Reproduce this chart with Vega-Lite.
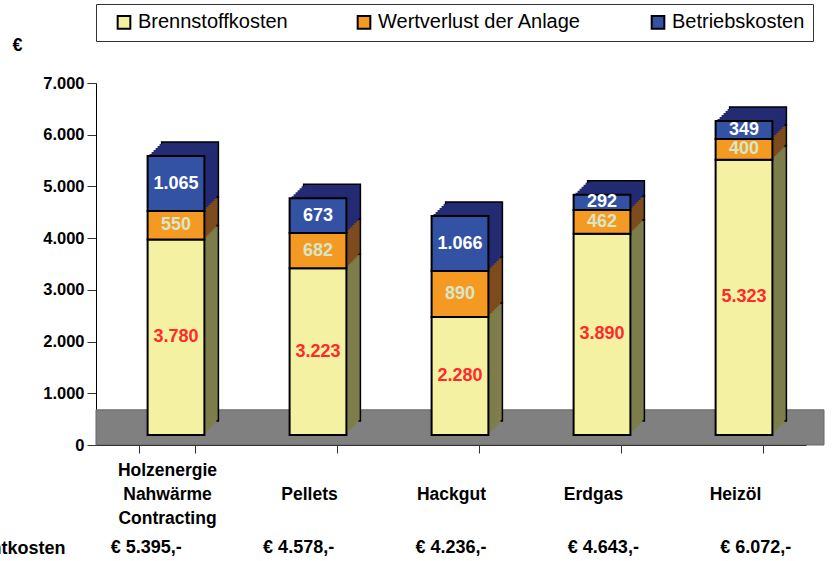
{
  "$schema": "https://vega.github.io/schema/vega-lite/v6.json",
  "width": 710,
  "height": 362,
  "autosize": {"type": "none"},
  "padding": {"left": 96, "top": 83, "right": 26, "bottom": 116},
  "background": "white",
  "config": {
    "locale": {"number": {"decimal": ",", "thousands": ".", "grouping": [3], "currency": ["€ ", ",-"]}},
    "font": "Liberation Sans",
    "view": {"stroke": null}
  },
  "datasets": {
    "costs": [
      {"cat": "Holzenergie Nahwärme Contracting", "comp": "Brennstoffkosten", "n": 1, "v": 3780},
      {"cat": "Holzenergie Nahwärme Contracting", "comp": "Wertverlust der Anlage", "n": 2, "v": 550},
      {"cat": "Holzenergie Nahwärme Contracting", "comp": "Betriebskosten", "n": 3, "v": 1065},
      {"cat": "Pellets", "comp": "Brennstoffkosten", "n": 1, "v": 3223},
      {"cat": "Pellets", "comp": "Wertverlust der Anlage", "n": 2, "v": 682},
      {"cat": "Pellets", "comp": "Betriebskosten", "n": 3, "v": 673},
      {"cat": "Hackgut", "comp": "Brennstoffkosten", "n": 1, "v": 2280},
      {"cat": "Hackgut", "comp": "Wertverlust der Anlage", "n": 2, "v": 890},
      {"cat": "Hackgut", "comp": "Betriebskosten", "n": 3, "v": 1066},
      {"cat": "Erdgas", "comp": "Brennstoffkosten", "n": 1, "v": 3890},
      {"cat": "Erdgas", "comp": "Wertverlust der Anlage", "n": 2, "v": 462},
      {"cat": "Erdgas", "comp": "Betriebskosten", "n": 3, "v": 292},
      {"cat": "Heizöl", "comp": "Brennstoffkosten", "n": 1, "v": 5323},
      {"cat": "Heizöl", "comp": "Wertverlust der Anlage", "n": 2, "v": 400},
      {"cat": "Heizöl", "comp": "Betriebskosten", "n": 3, "v": 349}
    ],
    "totals": [
      {"cat": "Holzenergie Nahwärme Contracting", "total": 5395},
      {"cat": "Pellets", "total": 4578},
      {"cat": "Hackgut", "total": 4236},
      {"cat": "Erdgas", "total": 4643},
      {"cat": "Heizöl", "total": 6072}
    ]
  },
  "layer": [
    {
      "data": {"values": [{"part": "Boden"}]},
      "mark": {"type": "rect", "fill": "#808080", "stroke": "#666666", "strokeWidth": 1, "xOffset": 18, "x2Offset": 18},
      "encoding": {
        "y": {"datum": 0, "type": "quantitative"},
        "y2": {"datum": 680}
      }
    },
    {
      "data": {"name": "costs"},
      "encoding": {
        "x": {
          "field": "cat", "type": "nominal", "sort": null,
          "scale": {"paddingInner": 0.6, "paddingOuter": 0.3},
          "axis": {
            "title": "Gesamtkosten", "titleX": -31, "titleY": 103, "titleAlign": "right", "titleBaseline": "middle",
            "titleFontSize": 18, "titleFontWeight": "bold", "titleColor": "black",
            "labelAngle": 0, "labelFontSize": 17.5, "labelFontWeight": "bold", "labelColor": "black",
            "labelBaseline": "middle", "labelPadding": 17, "labelLineHeight": 24, "labelLimit": 250,
            "labelExpr": "length(split(datum.label, ' ')) > 1 ? split(datum.label, ' ') : ['', datum.label]",
            "tickSize": 8, "tickColor": "#333333", "domainColor": "black", "tickBand": "extent"
          }
        },
        "y": {
          "field": "v", "type": "quantitative", "stack": "zero",
          "scale": {"domain": [0, 7000]},
          "axis": {
            "title": "€", "titleAngle": 0, "titleX": -84, "titleY": -38, "titleAlign": "left", "titleBaseline": "middle",
            "titleFontSize": 18, "titleFontWeight": "bold", "titleColor": "black",
            "values": [0, 1000, 2000, 3000, 4000, 5000, 6000, 7000], "format": ",d",
            "labelFontSize": 16.5, "labelFontWeight": "bold", "labelColor": "black", "labelPadding": 3,
            "tickSize": 9, "tickColor": "#333333", "domainColor": "black", "grid": false
          }
        },
        "order": {"field": "n", "type": "quantitative"}
      },
      "layer": [
        {
          "mark": {"type": "bar", "xOffset": 23, "x2Offset": 23, "yOffset": -24, "y2Offset": -24, "stroke": "black", "strokeWidth": 1.5},
          "encoding": {"fill": {"field": "n", "type": "nominal", "scale": {"domain": [1, 2, 3], "range": ["#7E7E4C", "#7D4B1D", "#232B73"]}, "legend": null}}
        },
        {
          "mark": {"type": "bar", "xOffset": 21, "x2Offset": 21, "yOffset": -22, "y2Offset": -22, "strokeWidth": 0},
          "encoding": {"fill": {"field": "n", "type": "nominal", "legend": null}}
        },
        {
          "mark": {"type": "bar", "xOffset": 19, "x2Offset": 19, "yOffset": -20, "y2Offset": -20, "strokeWidth": 0},
          "encoding": {"fill": {"field": "n", "type": "nominal", "legend": null}}
        },
        {
          "mark": {"type": "bar", "xOffset": 17, "x2Offset": 17, "yOffset": -18, "y2Offset": -18, "strokeWidth": 0},
          "encoding": {"fill": {"field": "n", "type": "nominal", "legend": null}}
        },
        {
          "mark": {"type": "bar", "xOffset": 15, "x2Offset": 15, "yOffset": -16, "y2Offset": -16, "strokeWidth": 0},
          "encoding": {"fill": {"field": "n", "type": "nominal", "legend": null}}
        },
        {
          "mark": {"type": "bar", "xOffset": 13, "x2Offset": 13, "yOffset": -14, "y2Offset": -14, "strokeWidth": 0},
          "encoding": {"fill": {"field": "n", "type": "nominal", "legend": null}}
        },
        {
          "mark": {"type": "bar", "xOffset": 11, "x2Offset": 11, "yOffset": -12, "y2Offset": -12, "strokeWidth": 0},
          "encoding": {"fill": {"field": "n", "type": "nominal", "legend": null}}
        },
        {
          "mark": {"type": "bar", "xOffset": 9, "x2Offset": 9, "yOffset": -10, "y2Offset": -10, "stroke": "black", "strokeWidth": 2},
          "encoding": {
            "color": {
              "field": "comp", "type": "nominal",
              "scale": {"domain": ["Brennstoffkosten", "Wertverlust der Anlage", "Betriebskosten"], "range": ["#F4F1A3", "#F49A22", "#3452A4"]},
              "legend": {
                "orient": "none", "legendX": 0, "legendY": -79, "direction": "horizontal", "title": null,
                "symbolType": "square", "symbolSize": 160, "symbolStrokeColor": "black", "symbolStrokeWidth": 2,
                "labelFontSize": 20, "labelColor": "black", "labelOffset": 4, "labelLimit": 300,
                "columnPadding": 56, "padding": 8, "strokeColor": "#333333", "symbolOffset": 10
              }
            }
          }
        },
        {
          "mark": {"type": "text", "xOffset": 9, "yOffset": -10, "fontSize": 18, "fontWeight": "bold", "baseline": "middle"},
          "encoding": {
            "y": {"field": "v", "type": "quantitative", "stack": "zero", "bandPosition": 0.5},
            "detail": {"field": "comp", "type": "nominal"},
            "text": {"field": "v", "type": "quantitative", "format": ",d"},
            "color": {
              "condition": [
                {"test": "datum.comp === 'Brennstoffkosten'", "value": "#FF2A2A"},
                {"test": "datum.comp === 'Wertverlust der Anlage'", "value": "#D7E6C8"}
              ],
              "value": "white"
            }
          }
        }
      ]
    },
    {
      "data": {"name": "totals"},
      "mark": {"type": "text", "fontSize": 18, "fontWeight": "bold", "baseline": "middle", "dy": 103, "color": "black"},
      "encoding": {
        "x": {"field": "cat", "type": "nominal", "sort": null, "scale": {"type": "point", "padding": 0.33}, "axis": null},
        "y": {"datum": 0, "type": "quantitative"},
        "text": {"field": "total", "type": "quantitative", "format": "$,d"}
      }
    }
  ],
  "resolve": {"scale": {"x": "independent"}}
}
